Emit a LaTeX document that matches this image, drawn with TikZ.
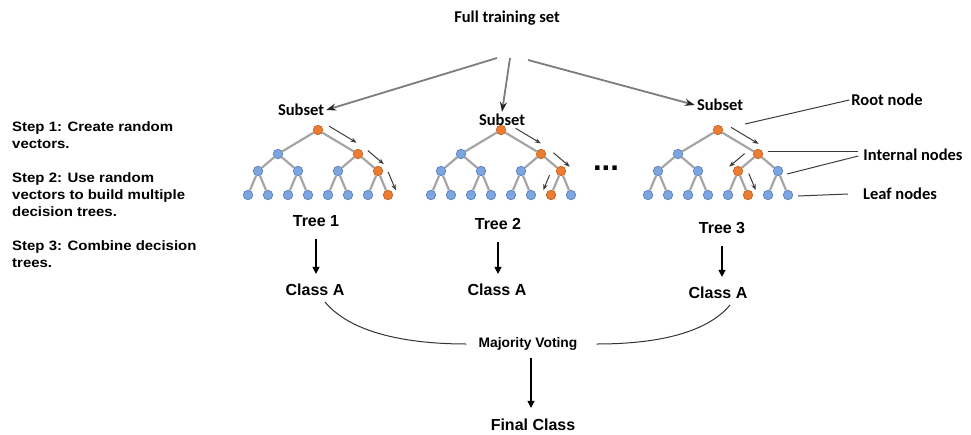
\documentclass[tikz,border=0pt]{standalone}
\usepackage{fontspec}
\setmainfont{Liberation Sans}
\newfontfamily\calibrifont{Carlito}
\newfontfamily\stepfont[FakeStretch=1.1]{Liberation Sans}
\usetikzlibrary{calc,arrows.meta}

\definecolor{nodeblue}{RGB}{125,165,222}
\definecolor{nodebluedk}{RGB}{85,125,195}
\definecolor{nodeorange}{RGB}{235,125,50}
\definecolor{nodeorangedk}{RGB}{200,95,30}
\definecolor{edgegray}{RGB}{165,165,165}
\definecolor{fangray}{RGB}{125,125,125}
\definecolor{inkgray}{RGB}{60,60,60}

\tikzset{
  bnode/.style={circle, fill=nodeblue, draw=nodebluedk, line width=0.7pt, minimum size=9.5pt, inner sep=0pt},
  onode/.style={bnode, fill=nodeorange, draw=nodeorangedk},
  edge/.style={edgegray, line width=2.2pt},
  flowarr/.style={inkgray, line width=1pt, -{Stealth[length=6pt,width=4.5pt]}},
  fanarr/.style={fangray, line width=1.8pt, -{Stealth[length=10pt,width=7pt,color=black!85]}},
  dnarr/.style={black, line width=1.2pt, -{Triangle[length=7pt,width=7pt]}, shorten <=10pt, shorten >=8pt},
  annot/.style={inkgray, line width=1pt},
  vline/.style={black!80, line width=1pt},
  cal/.style={font=\calibrifont\bfseries\fontsize{16.5}{20}\selectfont, inner sep=2pt},
  lbl/.style={font=\bfseries\fontsize{16}{19}\selectfont, inner sep=2pt},
  steptxt/.style={font=\stepfont\bfseries\fontsize{13.6}{17}\selectfont, align=left, anchor=north west, inner sep=0pt},
}

% small arrow running beside a tree edge (from, to, side, start, end)
\newcommand\flow[5]{\draw[flowarr] ($(#1.center)!#4!(#2.center)!9pt!#3:(#1.center)$) -- ($(#1.center)!#5!(#2.center)!9pt!#3:(#1.center)$);}

\begin{document}
\begin{tikzpicture}[x=1pt,y=1pt]
  \fill[white] (0,0) rectangle (971,-434);
  \useasboundingbox (0,0) rectangle (971,-434);

  % Steps on the left
  \node[steptxt] (step1) at (12,-121.7) {Step 1: Create random\\vectors.};
  \node[steptxt] (step2) at (12,-172.8) {Step 2: Use random\\vectors to build multiple\\decision trees.};
  \node[steptxt] (step3) at (12,-240.7) {Step 3: Combine decision\\trees.};

  % Trees: root x, orange child on levels 1, 2 and 3
  \foreach \t/\rx/\oa/\ob/\oc in {1/318/2/4/8, 2/501/2/4/7, 3/718/2/3/6}{
    \node[onode] (t\t-r) at (\rx,-130) {};
    \foreach \i in {1,2}{
      \ifnum\i=\oa\def\nsty{onode}\else\def\nsty{bnode}\fi
      \node[\nsty] (t\t-a\i) at ({\rx-120+80*\i},-154) {};
      \draw[edge] (t\t-r) -- (t\t-a\i);
    }
    \foreach \j in {1,...,4}{
      \pgfmathtruncatemacro\pa{(\j+1)/2}
      \ifnum\j=\ob\def\nsty{onode}\else\def\nsty{bnode}\fi
      \node[\nsty] (t\t-b\j) at ({\rx-100+40*\j},-171) {};
      \draw[edge] (t\t-a\pa) -- (t\t-b\j);
    }
    \foreach \k in {1,...,8}{
      \pgfmathtruncatemacro\pa{(\k+1)/2}
      \ifnum\k=\oc\def\nsty{onode}\else\def\nsty{bnode}\fi
      \node[\nsty] (t\t-c\k) at ({\rx-90+20*\k},-195) {};
      \draw[edge] (t\t-b\pa) -- (t\t-c\k);
    }
  }

  % Paths taken through each tree
  \flow{t1-r}{t1-a2}{-90}{0.16}{0.85}
  \flow{t1-a2}{t1-b4}{-90}{0.2}{1.0}
  \flow{t1-b4}{t1-c8}{-90}{0.18}{0.95}
  \flow{t2-r}{t2-a2}{-90}{0.25}{0.88}
  \flow{t2-a2}{t2-b4}{-90}{0.33}{1.15}
  \flow{t2-b4}{t2-c7}{90}{0.32}{0.94}
  \flow{t3-r}{t3-a2}{-90}{0.21}{0.9}
  \flow{t3-a2}{t3-b3}{90}{0.38}{1.15}
  \flow{t3-b3}{t3-c6}{-90}{0.25}{0.94}

  % Training set split into subsets
  \node[cal] (full) at (507,-18) {Full training set};
  \coordinate (fan1) at (497,-58);
  \coordinate (fan2) at (510,-58);
  \coordinate (fan3) at (528,-60);
  \node[cal] (sub1) at (301,-110) {Subset};
  \node[cal] (sub2) at (502,-120) {Subset};
  \node[cal] (sub3) at (720,-105) {Subset};
  \draw[fanarr] (fan1) -- (sub1.east);
  \draw[fanarr] (fan2) -- (sub2.north);
  \draw[fanarr] (fan3) -- (sub3.west);

  \node[font=\bfseries\fontsize{31}{31}\selectfont, anchor=base, inner sep=0pt] (dots) at (606,-170) {...};

  % Labels of the parts of a tree
  \node[cal] (rootlbl) at (887,-100) {Root node};
  \node[cal] (intlbl) at (913,-155) {Internal nodes};
  \node[cal] (leaflbl) at (900,-194) {Leaf nodes};
  \draw[annot] ([xshift=27pt,yshift=6pt]t3-r.center) -- (rootlbl.west);
  \draw[annot] ([xshift=10pt,yshift=3pt]t3-a2.center) -- ([xshift=-3pt,yshift=4pt]intlbl.west);
  \draw[annot] ([xshift=9pt,yshift=-3pt]t3-b4.center) -- ([xshift=-3pt,yshift=-1pt]intlbl.west);
  \draw[annot] ([xshift=10pt,yshift=-1pt]t3-c8.center) -- ([xshift=-13pt]leaflbl.west);

  % Predictions and voting
  \node[lbl] (tree1) at (316,-221) {Tree 1};
  \node[lbl] (tree2) at (498,-224) {Tree 2};
  \node[lbl] (tree3) at (722,-228) {Tree 3};
  \node[lbl] (cls1) at (315,-290) {Class A};
  \node[lbl] (cls2) at (497,-290) {Class A};
  \node[lbl] (cls3) at (718,-293) {Class A};
  \draw[dnarr] (tree1) -- (tree1 |- cls1.north);
  \draw[dnarr] (tree2) -- (tree2 |- cls2.north);
  \draw[dnarr] (tree3) -- (tree3 |- cls3.north);

  \node[font=\bfseries\fontsize{13.8}{16}\selectfont, inner sep=2pt] (vote) at (528,-344) {Majority Voting};
  \node[lbl] (final) at (533,-425) {Final Class};
  \draw[vline] ([xshift=10pt,yshift=-4pt]cls1.south) to[out=-50,in=180,looseness=0.8] ([xshift=-10pt]vote.west);
  \draw[vline] ([xshift=12pt,yshift=-4pt]cls3.south) to[out=-130,in=0,looseness=0.8] ([xshift=17pt]vote.east);
  \draw[dnarr, shorten <=5pt, shorten >=9pt] ([xshift=3pt]vote.south) -- ([xshift=3pt]vote.south |- final.north);
\end{tikzpicture}
\end{document}
